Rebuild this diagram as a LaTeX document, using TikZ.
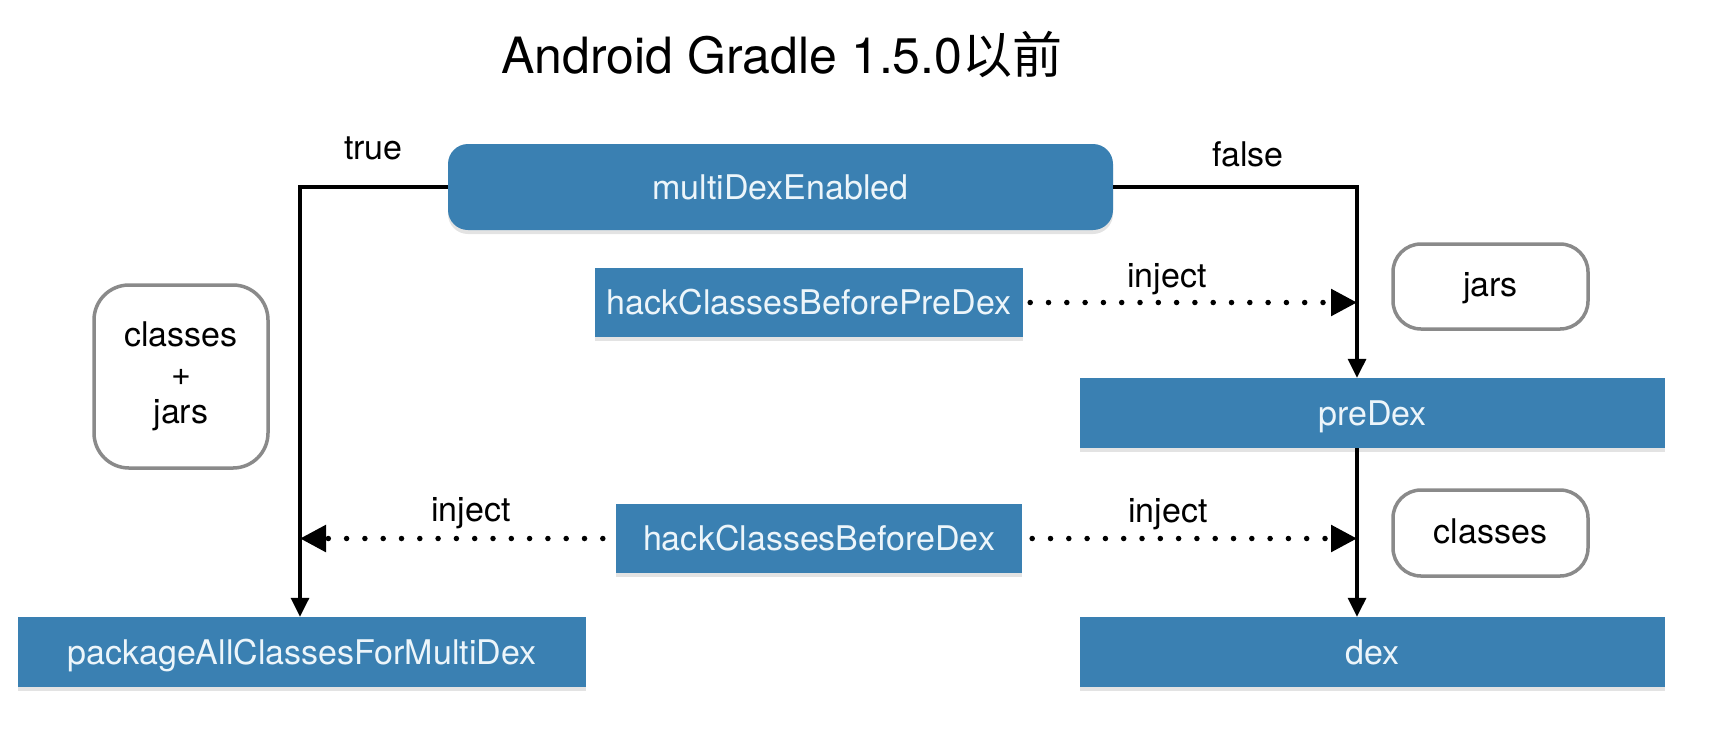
\documentclass[tikz,border=0pt]{standalone}
\usepackage{fontspec}
\setmainfont{TeX Gyre Heros}
\newfontfamily\cjk{Noto Sans CJK SC}
\usetikzlibrary{arrows.meta,shadows}
\definecolor{boxblue}{RGB}{58,128,178}
\definecolor{boxtext}{RGB}{236,245,250}
\definecolor{tagedge}{RGB}{138,138,138}
\tikzset{
  bluebox/.style={fill=boxblue, text=boxtext, inner sep=0pt,
    font=\fontsize{34}{40}\selectfont, text height=24pt, text depth=0pt,
    drop shadow={shadow xshift=0pt, shadow yshift=-4pt, opacity=0.22}},
  tagbox/.style={draw=tagedge, line width=3.5pt, rounded corners=28pt, fill=white,
    inner sep=0pt, align=center, font=\fontsize{34}{38.5}\selectfont},
  onetag/.style={tagbox, text height=20pt, text depth=0pt},
  lbl/.style={font=\fontsize{34}{40}\selectfont, anchor=base, inner sep=0pt},
  flow/.style={line width=3.3pt, -{Triangle[length=19pt,width=18pt]}},
  inj/.style={line width=5.5pt, line cap=round, dash pattern=on 0pt off 18.3pt,
    -{Triangle[length=26pt,width=26pt]}},
}
\begin{document}
\begin{tikzpicture}[x=1pt,y=-1pt]
\useasboundingbox (0,0) rectangle (1718,732);

\node[font=\fontsize{50}{60}\selectfont, anchor=base, inner sep=0pt] (title) at (782,73.5)
  {Android Gradle 1.5.0{\cjk 以前}};

\node[bluebox, rounded corners=20pt, minimum width=665pt, minimum height=86pt] (multi) at (780.5,187) {multiDexEnabled};
\node[bluebox, minimum width=428pt, minimum height=69pt] (hackPre) at (809,302.5) {hackClassesBeforePreDex};
\node[bluebox, minimum width=585pt, minimum height=70pt] (preDex) at (1372.5,413) {preDex};
\node[bluebox, minimum width=406pt, minimum height=69pt] (hackDex) at (819,538.5) {hackClassesBeforeDex};
\node[bluebox, minimum width=585pt, minimum height=70pt] (dex) at (1372.5,652) {dex};
\node[bluebox, minimum width=567.5pt, minimum height=70pt] (pkg) at (301.75,652) {packageAllClassesForMultiDex};

\node[onetag, minimum width=195pt, minimum height=85pt] (jars) at (1490.5,286.5) {jars};
\node[onetag, minimum width=195pt, minimum height=86pt] (classes) at (1490.5,533) {classes};
\node[tagbox, rounded corners=35pt, minimum width=174pt, minimum height=183pt] (cj) at (181,376.5) {classes\\+\\jars};

\node[lbl] (ltrue) at (373.5,159) {true};
\node[lbl] (lfalse) at (1248,166.7) {false};
\node[lbl] (linj1) at (1167,287) {inject};
\node[lbl] (linj2) at (1168,522.7) {inject};
\node[lbl] (linj3) at (471,521.7) {inject};

\coordinate (lc) at (300,187);
\coordinate (rc) at (1357,187);

\draw[flow] (multi.west) -- (lc) -- (lc |- pkg.north);
\draw[flow] (multi.east) -- (rc) -- (rc |- preDex.north);
\draw[flow] (preDex.south -| rc) -- (dex.north -| rc);

\draw[inj, shorten <=7pt] (hackPre.east) -- (hackPre.east -| rc);
\draw[inj, shorten <=10pt] (hackDex.east) -- (hackDex.east -| rc);
\draw[inj, shorten <=13pt] (hackDex.west) -- (hackDex.west -| lc);
\end{tikzpicture}
\end{document}
